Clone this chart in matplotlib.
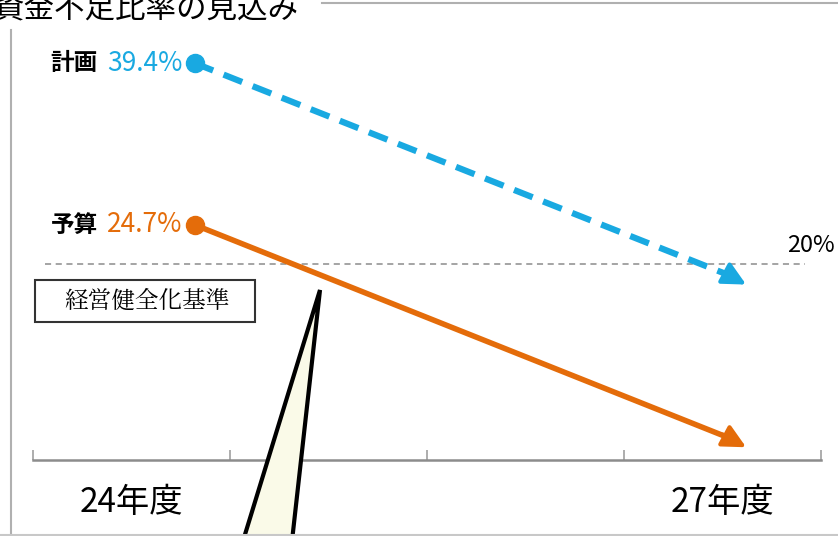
import matplotlib
matplotlib.use("Agg")
import matplotlib.pyplot as plt
from matplotlib.patches import Polygon, Rectangle
from matplotlib.lines import Line2D

plt.rcParams['font.family'] = ['Noto Sans CJK JP', 'DejaVu Sans']

# data (positions)
years = [24, 27]
year_labels = ['24年度', '27年度']
x_pos = [24.32, 27.12]          # arrow start / end along the year axis
plan = [40.5, 17.9]             # 計画 line levels
budget = [24.0, 1.3]            # 予算 line levels
plan_label = '39.4%'
budget_label = '24.7%'
threshold = 20
threshold_label = '20%'

blue = '#19A9E1'
orange = '#E46C0A'

W, H = 838, 536
fig = plt.figure(figsize=(W / 100, H / 100), dpi=100)

# axes: x line at pixel y=460, from pixel x=33 to 821
ax = fig.add_axes([33 / W, (H - 460) / H, (821 - 33) / W, 460 / H])
ax.set_xlim(23.5, 27.5)
ax.set_ylim(0, 460 / 9.8)
ax.patch.set_alpha(0)
for s in ['top', 'right', 'left']:
    ax.spines[s].set_visible(False)
ax.spines['bottom'].set_color('#8c8c8c')
ax.spines['bottom'].set_linewidth(1.8)
ax.set_yticks([])
ax.set_xticks([23.5, 24.5, 25.5, 26.5, 27.5])
ax.tick_params(axis='x', direction='in', length=7, width=1.2, color='#a0a0a0', labelbottom=False)
for yr, lab in zip(years, year_labels):
    ax.text(yr, -4.3, lab, ha='center', va='center', fontsize=24, clip_on=False)

# threshold line
ax.plot([23.56, 27.42], [threshold, threshold], ls=(0, (4, 3)), color='#8c8c8c', lw=1.1)
ax.text(27.57, threshold + 1.9, threshold_label, ha='right', va='center', fontsize=17,
        clip_on=False)

# plan arrow (dashed)
ax.plot([x_pos[0], x_pos[1] - 0.08], [plan[0], plan[1] + 0.9], color=blue, lw=4.5,
        ls=(0, (3.2, 1.8)), solid_capstyle='butt')
ax.annotate('', xy=(x_pos[1], plan[1]), xytext=(x_pos[1] - 0.12, plan[1] + 1.3),
            arrowprops=dict(arrowstyle='-|>,head_length=1.4,head_width=0.7',
                            color=blue, lw=3, shrinkA=0, shrinkB=0))
ax.plot(x_pos[0], plan[0], 'o', color=blue, ms=13)

# budget arrow (solid)
ax.plot([x_pos[0], x_pos[1] - 0.08], [budget[0], budget[1] + 0.9], color=orange, lw=4)
ax.annotate('', xy=(x_pos[1], budget[1]), xytext=(x_pos[1] - 0.12, budget[1] + 1.3),
            arrowprops=dict(arrowstyle='-|>,head_length=1.4,head_width=0.7',
                            color=orange, lw=3, shrinkA=0, shrinkB=0))
ax.plot(x_pos[0], budget[0], 'o', color=orange, ms=13)

# labels next to the starting points
for level, name, val, col in [(plan[0], '計画', plan_label, blue),
                              (budget[0], '予算', budget_label, orange)]:
    ax.text(x_pos[0] - 0.06, level, val, ha='right', va='center', fontsize=19, color=col)
    ax.text(x_pos[0] - 0.49, level, name, ha='right', va='center', fontsize=17,
            fontweight='bold', color='black')

# box label
fig.patches.append(Rectangle((35, H - 322), 220, 42, transform=None, fill=False,
                             edgecolor='#333333', lw=1.5))
fig.text(147 / W, (H - 301) / H, '経営健全化基準', ha='center', va='center',
         fontsize=17, family=['Noto Serif CJK JP', 'Noto Sans CJK JP'])

# title (cut at top edge, as in the source)
fig.text(-6 / W, (H - 17) / H, '資金不足比率の見込み', ha='left', va='baseline', fontsize=22)

# frame lines
fig.lines.append(Line2D([11 / W, 11 / W], [0, (H - 30) / H], transform=fig.transFigure,
                        color='#b0b0b0', lw=1.5))
fig.lines.append(Line2D([322 / W, 1], [(H - 3) / H, (H - 3) / H], transform=fig.transFigure,
                        color='#b0b0b0', lw=1.5))
fig.lines.append(Line2D([0, 1], [1 / H, 1 / H], transform=fig.transFigure,
                        color='#c8c8c8', lw=1.5))

# callout wedge
fig.patches.append(Polygon([(320, H - 290), (243, -5), (292, -5)], closed=True,
                           transform=None, facecolor='#FAFAE8', edgecolor='black', lw=3))

fig.savefig('out.png', dpi=100)
